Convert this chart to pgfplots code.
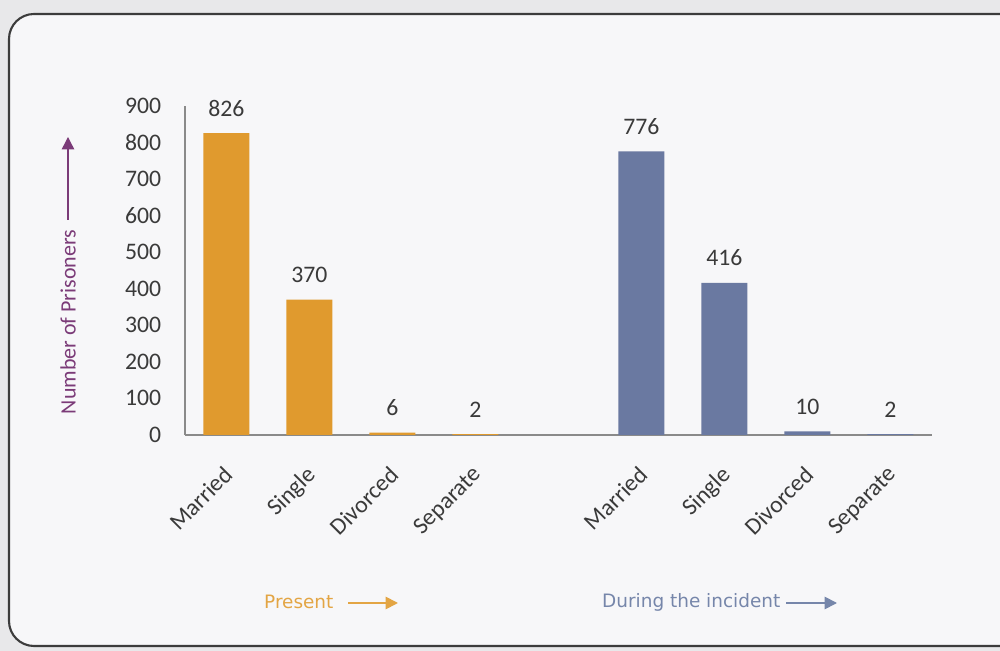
\documentclass[border=0pt]{standalone}
\usepackage{pgfplots}
\pgfplotsset{compat=1.18}
\usepackage{fontspec}
\setmainfont{Carlito}
\newfontfamily\verd{DejaVu Sans}
\usetikzlibrary{arrows.meta}
\definecolor{barorange}{HTML}{E09A2E}
\definecolor{barblue}{HTML}{6A79A1}
\definecolor{pagegrey}{HTML}{E8E8EA}
\definecolor{panel}{HTML}{F7F7F9}
\definecolor{framegrey}{HTML}{3C3C3C}
\definecolor{axisgrey}{HTML}{8A8A8A}
\definecolor{textgrey}{HTML}{3A3A3A}
\definecolor{labpurple}{HTML}{7B3B78}
\definecolor{laborange}{HTML}{E3A544}
\definecolor{labblue}{HTML}{7686AA}

\begin{document}
\begin{tikzpicture}
% pixel frame: 1px = 0.02cm, origin at the axis corner (185,435)
\begin{scope}[x=0.02cm,y=-0.02cm,shift={(-3.7cm,8.7cm)}]
  \path[use as bounding box] (0,0) rectangle (1000,651);
  \fill[pagegrey] (0,0) rectangle (1000,651);
  \filldraw[fill=panel, draw=framegrey, line width=1.2pt, rounded corners=0.5cm]
    (9,14) rectangle (1030,646);
  % y label with arrow
  \node[rotate=90, text=labpurple, font=\fontsize{12.5}{14}\selectfont] at (68,322) {Number of Prisoners};
  \draw[labpurple, line width=0.8pt, -{Triangle[length=7pt,width=7pt]}] (68,220) -- (68,137);
  % group captions
  \node[anchor=west, text=laborange, font=\verd\fontsize{10.5}{12}\selectfont] at (258,602) {Present};
  \draw[laborange, line width=1pt, -{Triangle[length=7pt,width=7pt]}] (348,603) -- (398,603);
  \node[anchor=west, text=labblue, font=\verd\fontsize{10.5}{12}\selectfont] at (596,602) {During the incident};
  \draw[labblue, line width=1pt, -{Triangle[length=7pt,width=7pt]}] (786,603) -- (837,603);
\end{scope}

\begin{axis}[
  at={(0,0)}, anchor=south west, scale only axis,
  width=14.94cm, height=6.58cm,
  xmin=-0.5, xmax=8.5, ymin=0, ymax=900,
  axis x line=bottom, axis y line=left,
  axis line style={-, draw=axisgrey, line width=0.7pt},
  ytick={0,100,...,900},
  xtick={0,1,2,3,5,6,7,8},
  xticklabels={Married,Single,Divorced,Separate,Married,Single,Divorced,Separate},
  major tick length=0pt,
  /pgf/number format/assume math mode=true,
  tick label style={font=\fontsize{13.5}{15}\selectfont, text=textgrey},
  y tick label style={xshift=-0.35cm},
  x tick label style={xshift=-0.08cm, yshift=-0.42cm, rotate=45, anchor=north east},
  ybar, bar width=0.92cm,
  nodes near coords,
  every node near coord/.append style={font=\fontsize{13.5}{15}\selectfont, text=textgrey, yshift=6pt},
]
\addplot[bar shift=0pt, draw=none, fill=barorange]
  coordinates {(0,826) (1,370) (2,6) (3,2)};
\addplot[bar shift=0pt, draw=none, fill=barblue]
  coordinates {(5,776) (6,416) (7,10) (8,2)};
\end{axis}
\end{tikzpicture}
\end{document}
